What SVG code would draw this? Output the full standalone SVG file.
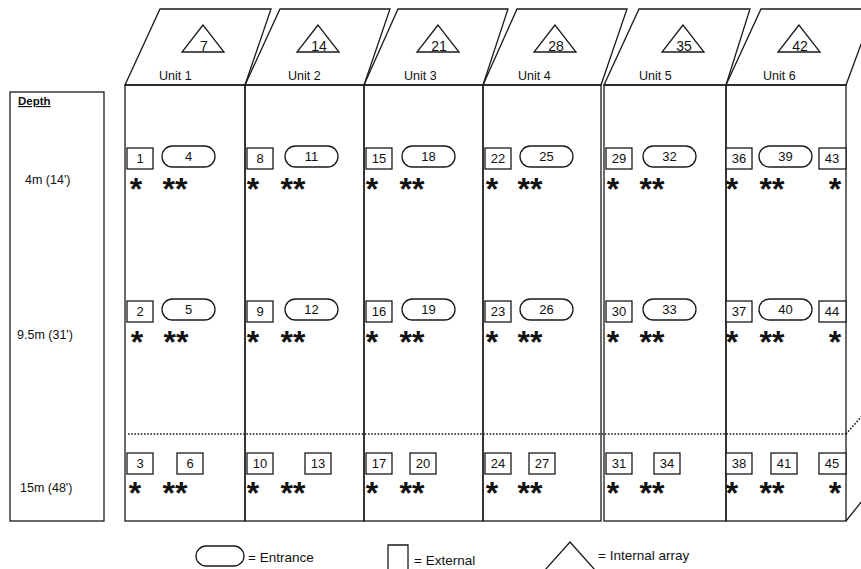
<svg xmlns="http://www.w3.org/2000/svg" width="861" height="569" viewBox="0 0 861 569">
<style>
.ln{fill:none;stroke:#1a1a1a;stroke-width:1.3}
.bx{fill:#fff;stroke:#1a1a1a;stroke-width:1.3}
.dot{fill:none;stroke:#1a1a1a;stroke-width:1.6;stroke-dasharray:1.6 1.6}
text{font-family:"Liberation Sans",Arial,sans-serif;fill:#111}
.num{font-size:13px;text-anchor:middle}
.tri{font-size:14px;text-anchor:middle}
.lbl{font-size:12.5px}
.dep{font-size:12.5px}
.star{font-size:32px;font-weight:bold;text-anchor:middle}
.leg{font-size:13.5px}
</style>
<rect width="861" height="569" fill="#fff"/>
<g id="depth">
<rect class="ln" x="10" y="92" width="94" height="429"/>
<text x="18" y="105" style="font-size:11.5px;font-weight:bold;text-decoration:underline">Depth</text>
<text class="dep" x="25" y="184">4m (14')</text>
<text class="dep" x="17" y="339">9.5m (31')</text>
<text class="dep" x="20" y="492">15m (48')</text>
</g>
<g id="lines">
<line class="dot" x1="128" y1="434" x2="846" y2="434"/>
<line class="dot" x1="846" y1="434" x2="862" y2="416"/>
<line class="ln" x1="846" y1="521" x2="870" y2="491"/>
</g>
<g id="unit1">
<rect class="ln" x="125" y="85" width="120" height="436"/>
<polygon class="ln" points="125,85 160,9 271,9 245,85"/>
<polygon class="ln" points="203,25 182,52 224,52"/>
<text class="tri" x="204" y="51">7</text>
<text class="lbl" x="159" y="80">Unit 1</text>
<rect class="bx" x="127" y="148" width="26" height="21"/><text class="num" x="140" y="163">1</text>
<rect class="bx" x="162" y="146" width="53" height="21" rx="10.5"/><text class="num" x="188.5" y="161">4</text>
<rect class="bx" x="127" y="301" width="26" height="21"/><text class="num" x="140" y="316">2</text>
<rect class="bx" x="162" y="299" width="53" height="21" rx="10.5"/><text class="num" x="188.5" y="314">5</text>
<rect class="bx" x="127" y="453" width="26" height="21"/><text class="num" x="140" y="468">3</text>
<rect class="bx" x="177" y="453" width="26" height="21"/><text class="num" x="190" y="468">6</text>
<text class="star" x="136" y="200">*</text><text class="star" x="175" y="200">**</text>
<text class="star" x="137" y="353">*</text><text class="star" x="176" y="353">**</text>
<text class="star" x="135" y="504">*</text><text class="star" x="175" y="504">**</text>
</g>
<g id="unit2">
<rect class="ln" x="245" y="85" width="119" height="436"/>
<polygon class="ln" points="245,85 280,9 390,9 364,85"/>
<polygon class="ln" points="318,25 297,52 339,52"/>
<text class="tri" x="319" y="51">14</text>
<text class="lbl" x="288" y="80">Unit 2</text>
<rect class="bx" x="247" y="148" width="26" height="21"/><text class="num" x="260" y="163">8</text>
<rect class="bx" x="285" y="146" width="53" height="21" rx="10.5"/><text class="num" x="311.5" y="161">11</text>
<rect class="bx" x="247" y="301" width="26" height="21"/><text class="num" x="260" y="316">9</text>
<rect class="bx" x="285" y="299" width="53" height="21" rx="10.5"/><text class="num" x="311.5" y="314">12</text>
<rect class="bx" x="247" y="453" width="26" height="21"/><text class="num" x="260" y="468">10</text>
<rect class="bx" x="305" y="453" width="26" height="21"/><text class="num" x="318" y="468">13</text>
<text class="star" x="253" y="200">*</text><text class="star" x="293" y="200">**</text>
<text class="star" x="253" y="353">*</text><text class="star" x="293" y="353">**</text>
<text class="star" x="253" y="504">*</text><text class="star" x="293" y="504">**</text>
</g>
<g id="unit3">
<rect class="ln" x="364" y="85" width="119" height="436"/>
<polygon class="ln" points="364,85 398,9 508,9 483,85"/>
<polygon class="ln" points="438,25 417,52 459,52"/>
<text class="tri" x="439" y="51">21</text>
<text class="lbl" x="404" y="80">Unit 3</text>
<rect class="bx" x="366" y="148" width="26" height="21"/><text class="num" x="379" y="163">15</text>
<rect class="bx" x="402" y="146" width="53" height="21" rx="10.5"/><text class="num" x="428.5" y="161">18</text>
<rect class="bx" x="366" y="301" width="26" height="21"/><text class="num" x="379" y="316">16</text>
<rect class="bx" x="402" y="299" width="53" height="21" rx="10.5"/><text class="num" x="428.5" y="314">19</text>
<rect class="bx" x="366" y="453" width="26" height="21"/><text class="num" x="379" y="468">17</text>
<rect class="bx" x="410" y="453" width="26" height="21"/><text class="num" x="423" y="468">20</text>
<text class="star" x="372" y="200">*</text><text class="star" x="412" y="200">**</text>
<text class="star" x="372" y="353">*</text><text class="star" x="412" y="353">**</text>
<text class="star" x="372" y="504">*</text><text class="star" x="412" y="504">**</text>
</g>
<g id="unit4">
<rect class="ln" x="483" y="85" width="118" height="436"/>
<polygon class="ln" points="483,85 517,9 627,9 601,85"/>
<polygon class="ln" points="555,25 534,52 576,52"/>
<text class="tri" x="556" y="51">28</text>
<text class="lbl" x="518" y="80">Unit 4</text>
<rect class="bx" x="485" y="148" width="26" height="21"/><text class="num" x="498" y="163">22</text>
<rect class="bx" x="520" y="146" width="53" height="21" rx="10.5"/><text class="num" x="546.5" y="161">25</text>
<rect class="bx" x="485" y="301" width="26" height="21"/><text class="num" x="498" y="316">23</text>
<rect class="bx" x="520" y="299" width="53" height="21" rx="10.5"/><text class="num" x="546.5" y="314">26</text>
<rect class="bx" x="485" y="453" width="26" height="21"/><text class="num" x="498" y="468">24</text>
<rect class="bx" x="529" y="453" width="26" height="21"/><text class="num" x="542" y="468">27</text>
<text class="star" x="492" y="200">*</text><text class="star" x="530" y="200">**</text>
<text class="star" x="492" y="353">*</text><text class="star" x="530" y="353">**</text>
<text class="star" x="492" y="504">*</text><text class="star" x="530" y="504">**</text>
</g>
<g id="unit5">
<rect class="ln" x="604" y="85" width="122" height="436"/>
<polygon class="ln" points="604,85 639,9 750,9 726,85"/>
<polygon class="ln" points="683,25 662,52 704,52"/>
<text class="tri" x="684" y="51">35</text>
<text class="lbl" x="639" y="80">Unit 5</text>
<rect class="bx" x="606" y="148" width="26" height="21"/><text class="num" x="619" y="163">29</text>
<rect class="bx" x="643" y="146" width="53" height="21" rx="10.5"/><text class="num" x="669.5" y="161">32</text>
<rect class="bx" x="606" y="301" width="26" height="21"/><text class="num" x="619" y="316">30</text>
<rect class="bx" x="643" y="299" width="53" height="21" rx="10.5"/><text class="num" x="669.5" y="314">33</text>
<rect class="bx" x="606" y="453" width="26" height="21"/><text class="num" x="619" y="468">31</text>
<rect class="bx" x="654" y="453" width="26" height="21"/><text class="num" x="667" y="468">34</text>
<text class="star" x="613" y="200">*</text><text class="star" x="652" y="200">**</text>
<text class="star" x="613" y="353">*</text><text class="star" x="652" y="353">**</text>
<text class="star" x="613" y="504">*</text><text class="star" x="652" y="504">**</text>
</g>
<g id="unit6">
<rect class="ln" x="726" y="85" width="120" height="436"/>
<polygon class="ln" points="726,85 761,9 874,9 846,85"/>
<polygon class="ln" points="799,25 778,52 820,52"/>
<text class="tri" x="800" y="51">42</text>
<text class="lbl" x="763" y="80">Unit 6</text>
<rect class="bx" x="726" y="148" width="26" height="21"/><text class="num" x="739" y="163">36</text>
<rect class="bx" x="759" y="146" width="53" height="21" rx="10.5"/><text class="num" x="785.5" y="161">39</text>
<rect class="bx" x="819" y="148" width="27" height="21"/><text class="num" x="832" y="163">43</text>
<rect class="bx" x="726" y="301" width="26" height="21"/><text class="num" x="739" y="316">37</text>
<rect class="bx" x="759" y="299" width="53" height="21" rx="10.5"/><text class="num" x="785.5" y="314">40</text>
<rect class="bx" x="819" y="301" width="27" height="21"/><text class="num" x="832" y="316">44</text>
<rect class="bx" x="726" y="453" width="26" height="21"/><text class="num" x="739" y="468">38</text>
<rect class="bx" x="771" y="453" width="26" height="21"/><text class="num" x="784" y="468">41</text>
<rect class="bx" x="819" y="453" width="27" height="21"/><text class="num" x="832" y="468">45</text>
<text class="star" x="732" y="200">*</text><text class="star" x="772" y="200">**</text><text class="star" x="835" y="200">*</text>
<text class="star" x="732" y="353">*</text><text class="star" x="772" y="353">**</text><text class="star" x="835" y="353">*</text>
<text class="star" x="732" y="504">*</text><text class="star" x="772" y="504">**</text><text class="star" x="835" y="504">*</text>
</g>
<g id="legend">
<rect class="ln" x="196" y="546" width="48" height="20" rx="10"/>
<text class="leg" x="248" y="562">= Entrance</text>
<path class="ln" d="M388,570 V545 H408 V570"/>
<text class="leg" x="414" y="565">= External</text>
<path class="ln" d="M545,570 L570,542 L595,570"/>
<text class="leg" x="598" y="560">= Internal array</text>
</g>
</svg>
